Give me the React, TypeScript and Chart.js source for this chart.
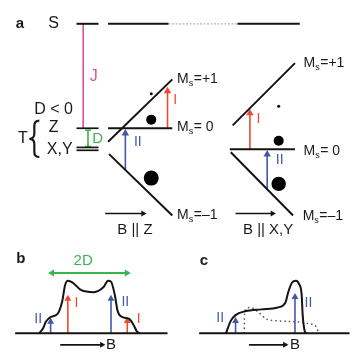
import React, { useEffect, useRef } from "react";
import { Chart, registerables } from "chart.js";

Chart.register(...registerables);

const WIDTH = 359;
const HEIGHT = 360;
const FONT = "'Liberation Sans', Arial, sans-serif";

// ---------- Panel a: energy levels [x0, y0, x1, y1] (diagram units, y grows downward)
const singletLevel = [[72, 17, 95, 17], [105, 17, 168, 17], [240, 17, 305, 17]];
const singletGap = [[168, 17, 240, 17]];
const tripletZeroField = [[72, 126, 95, 126], [72, 146, 95, 146], [72, 149, 95, 149]];
const levelsBZ = [[105, 140, 172, 75], [105, 126, 172, 126], [106, 153, 172, 217]];
const levelsBXY = [[235, 123, 300, 58], [232, 148, 300, 148], [233, 151, 298, 217]];
const exchangeJ = [[79, 17, 79, 126]];
const zfsD = [[84, 128, 84, 145], [81, 128, 87, 128], [81, 145, 87, 145]];

// sublevel populations [x, y, radius]
const populationsBZ = [[150, 90, 1.5], [150, 117, 5], [150, 178, 7.5]];
const populationsBXY = [[283, 103, 1.5], [283, 139, 5], [283, 184, 7.2]];

// transitions [x, from y, to y]
const transI_a = [[167, 126, 83], [253, 148, 106]];
const transII_a = [[123, 170, 127], [271, 189, 149]];
const transI_b = [[63, 340, 300], [125, 340, 323]];
const transII_b = [[45, 340, 324], [108, 340, 300]];
const transII_c = [[238, 340, 323], [300, 340, 298]];

// field direction arrows [x from, x to, y]
const fieldArrows = [[102, 145, 215], [238, 280, 215], [55, 102, 352], [252, 293, 352]];
// 2D width arrow [x from, x to, y]
const widthArrow = [[43, 128, 277]];

// ---------- Panels b, c: spectra
const baselines = [[8, 340, 167, 340], [200, 340, 357, 340]];
const spectrumB = [[33, 340], [37, 335], [40, 328], [45, 323], [52, 320], [57, 307], [60, 290], [63, 285], [68, 287], [77, 295], [90, 297], [100, 292], [105, 285], [108, 286], [112, 300], [115, 317], [120, 323], [127, 325], [132, 332], [135, 338], [138, 340]];
const spectrumC = [[228, 340], [233, 327], [238, 321], [248, 317], [265, 315], [282, 313], [290, 308], [293, 297], [297, 287], [301, 285], [304, 288], [307, 300], [308, 320], [310, 337], [312, 340]];
const spectrumCdotted = [[247, 340], [247.5, 317], [253, 313], [262, 318], [270, 325], [282, 327], [302, 328], [315, 330], [322, 333], [325, 340]];

// ---------- Text
const panelLetters = [["a", 13, 17], ["b", 14, 262], ["c", 205, 264]];
const stateLabels = [["S", 48, 17], ["D < 0", 48, 107], ["T", 16, 137]];
const sublevelLabels = [["Z", 43, 125], ["X,Y", 41, 148]];
const fieldLabels = [["B || Z", 133, 232], ["B || X,Y", 272, 232], ["B", 108, 352], ["B", 300, 352]];
const msLabels = [["=+1", 177, 75], ["= 0", 177, 125], ["=\u20131", 177, 217], ["=+1", 309, 58], ["= 0", 309, 150], ["=\u20131", 308, 218]];
const labelsI = [["I", 175, 97], ["I", 262, 117], ["I", 72, 308], ["I", 137, 325]];
const labelsII = [["II", 136, 140], ["II", 284, 159], ["II", 32, 325], ["II", 123, 307], ["II", 222, 324], ["II", 314, 308]];
const labelsJ = [["J", 90, 72]];
const labelsD = [["D", 94, 137], ["2D", 79, 264]];
const tripletBrace = [[28, 118, 156]];

const BLACK = "#141414";
const RED = "#ec4b31";
const BLUE = "#4357a8";
const PINK = "#d8529c";
const GREEN = "#3bb54a";
const TEXT = "#1a1a1a";

function seg(s: number[], color: string, width: number, dash: number[] = []) {
  return {
    data: [{ x: s[0], y: s[1] }, { x: s[2], y: s[3] }],
    showLine: true,
    borderColor: color,
    borderWidth: width,
    borderDash: dash,
    pointRadius: 0,
    fill: false,
    clip: false,
  };
}

function head(x: number, y: number, color: string, r: number, rot: number) {
  return {
    data: [{ x, y }],
    showLine: false,
    pointStyle: "triangle",
    pointRadius: r,
    pointRotation: rot,
    pointBackgroundColor: color,
    pointBorderColor: color,
    pointBorderWidth: 0,
    clip: false,
  };
}

function upArrows(list: number[][], color: string, r: number, w: number) {
  const out: any[] = [];
  list.forEach(([x, y0, y1]) => {
    out.push(seg([x, y0, x, y1 + r], color, w));
    out.push(head(x, y1 + r, color, r, 0));
  });
  return out;
}

function curve(pts: number[][], color: string, width: number, dash: number[] = []) {
  return {
    data: pts.map(([x, y]) => ({ x, y })),
    showLine: true,
    borderColor: color,
    borderWidth: width,
    borderDash: dash,
    pointRadius: 0,
    tension: 0.4,
    cubicInterpolationMode: "monotone",
    fill: false,
    clip: false,
  };
}

function dots(list: number[][]) {
  return {
    data: list.map(([x, y]) => ({ x, y })),
    showLine: false,
    pointRadius: list.map((d) => d[2]),
    pointBackgroundColor: "#000",
    pointBorderWidth: 0,
    pointStyle: "circle",
    clip: false,
  };
}

const annotate = {
  id: "annotate",
  afterDatasetsDraw(chart: any) {
    const { ctx } = chart;
    const sx = chart.scales.x;
    const sy = chart.scales.y;
    const px = (v: number) => sx.getPixelForValue(v);
    const py = (v: number) => sy.getPixelForValue(v);
    const put = (list: any[], font: string, color: string, align: string = "center") => {
      ctx.save();
      ctx.font = font;
      ctx.fillStyle = color;
      ctx.textAlign = align;
      ctx.textBaseline = "middle";
      list.forEach(([t, a, b]: any) => ctx.fillText(t, px(a), py(b)));
      ctx.restore();
    };
    put(panelLetters, `bold 15px ${FONT}`, TEXT);
    put(stateLabels, `16px ${FONT}`, TEXT);
    put(sublevelLabels, `16px ${FONT}`, TEXT, "left");
    put(fieldLabels, `15px ${FONT}`, TEXT);
    put(labelsI, `14px ${FONT}`, RED);
    put(labelsII, `14px ${FONT}`, BLUE);
    put(labelsJ, `16px ${FONT}`, PINK);
    put(labelsD, `15px ${FONT}`, GREEN);

    ctx.save();
    ctx.fillStyle = TEXT;
    ctx.textBaseline = "middle";
    ctx.textAlign = "left";
    msLabels.forEach(([suffix, a, b]: any) => {
      let cx = px(a);
      const cy = py(b);
      ctx.font = `14px ${FONT}`;
      ctx.fillText("M", cx, cy);
      cx += ctx.measureText("M").width;
      ctx.font = `9px ${FONT}`;
      ctx.fillText("s", cx, cy + 4);
      cx += ctx.measureText("s").width + 0.5;
      ctx.font = `14px ${FONT}`;
      ctx.fillText(suffix, cx, cy);
    });
    ctx.restore();

    ctx.save();
    ctx.strokeStyle = TEXT;
    ctx.lineWidth = 2.2;
    tripletBrace.forEach(([bx, top, bot]) => {
      const x = px(bx);
      const t = py(top);
      const b = py(bot);
      const m = (t + b) / 2;
      ctx.beginPath();
      ctx.moveTo(x + 5, t);
      ctx.quadraticCurveTo(x, t, x, t + 5);
      ctx.lineTo(x, m - 5);
      ctx.quadraticCurveTo(x, m, x - 5, m);
      ctx.quadraticCurveTo(x, m, x, m + 5);
      ctx.lineTo(x, b - 5);
      ctx.quadraticCurveTo(x, b, x + 5, b);
      ctx.stroke();
    });
    ctx.restore();
  },
};

export default function App() {
  const ref = useRef<HTMLCanvasElement | null>(null);

  useEffect(() => {
    document.body.style.margin = "0";
    const canvas = ref.current;
    if (!canvas) return;

    const datasets: any[] = [];
    singletLevel.forEach((s) => datasets.push(seg(s, BLACK, 2)));
    singletGap.forEach((s) => datasets.push(seg(s, "#b5b5b5", 1.2, [2, 1.5])));
    tripletZeroField.forEach((s) => datasets.push(seg(s, BLACK, 1.7)));
    levelsBZ.forEach((s) => datasets.push(seg(s, BLACK, 2)));
    levelsBXY.forEach((s) => datasets.push(seg(s, BLACK, 2)));
    exchangeJ.forEach((s) => datasets.push(seg(s, PINK, 1.6)));
    zfsD.forEach((s) => datasets.push(seg(s, GREEN, 1.6)));
    baselines.forEach((s) => datasets.push(seg(s, BLACK, 2)));

    datasets.push(curve(spectrumB, BLACK, 2));
    datasets.push(curve(spectrumC, BLACK, 2));
    datasets.push(curve(spectrumCdotted, "#555555", 1.5, [1.5, 3]));

    datasets.push(...upArrows(transI_a, RED, 4.3, 1.6));
    datasets.push(...upArrows(transII_a, BLUE, 4.3, 1.6));
    datasets.push(...upArrows(transI_b, RED, 4, 1.6));
    datasets.push(...upArrows(transII_b, BLUE, 4, 1.6));
    datasets.push(...upArrows(transII_c, BLUE, 4, 1.6));

    fieldArrows.forEach(([x0, x1, y]) => {
      datasets.push(seg([x0, y, x1 - 3.5, y], BLACK, 1.6));
      datasets.push(head(x1 - 3.5, y, BLACK, 3.5, 90));
    });
    widthArrow.forEach(([x0, x1, y]) => {
      datasets.push(seg([x0 + 3.5, y, x1 - 3.5, y], GREEN, 1.9));
      datasets.push(head(x0 + 3.5, y, GREEN, 4, -90));
      datasets.push(head(x1 - 3.5, y, GREEN, 4, 90));
    });

    datasets.push(dots(populationsBZ));
    datasets.push(dots(populationsBXY));

    const chart = new Chart(canvas, {
      type: "scatter",
      data: { datasets },
      options: {
        responsive: false,
        animation: false,
        events: [],
        layout: { padding: 0 },
        plugins: { legend: { display: false }, tooltip: { enabled: false } },
        scales: {
          x: { type: "linear", min: 0, max: WIDTH, display: false },
          y: { type: "linear", min: 0, max: HEIGHT, reverse: true, display: false },
        },
      },
      plugins: [annotate],
    } as any);

    return () => chart.destroy();
  }, []);

  return (
    <div style={{ width: WIDTH, height: HEIGHT }}>
      <canvas ref={ref} width={WIDTH} height={HEIGHT} style={{ display: "block" }} />
    </div>
  );
}
